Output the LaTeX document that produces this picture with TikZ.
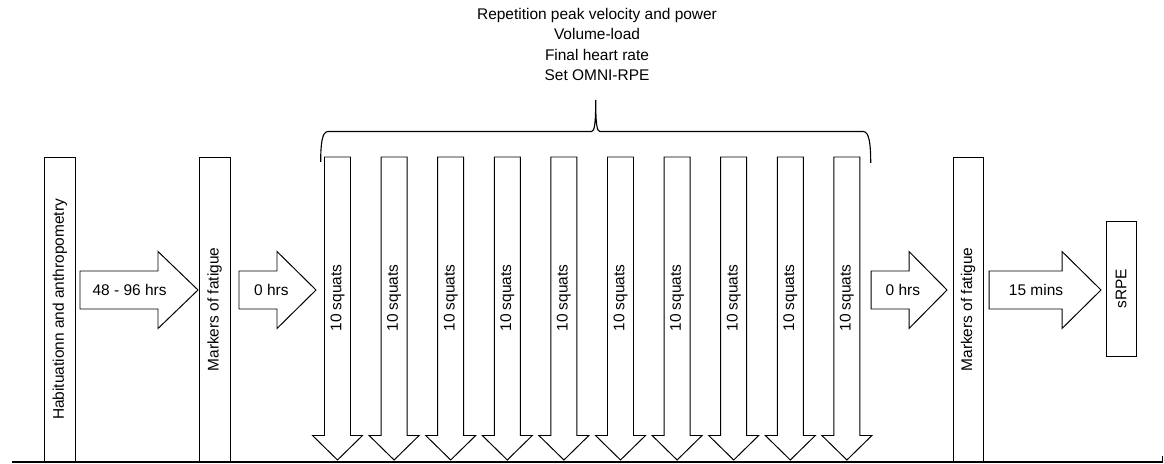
\documentclass[tikz,border=0pt]{standalone}
\usepackage{fontspec}
\setmainfont{Liberation Sans}
\usepackage{tikz}
\usetikzlibrary{positioning,calc}

\tikzset{
  blk/.style={draw, line width=0.7pt, fill=white},
  lbl/.style={font=\fontsize{11}{14.4}\selectfont, inner sep=0pt},
  vlbl/.style={lbl, rotate=90},
  stagebox/.style={blk, vlbl, rectangle},
}

% block arrow pointing right: name, start x, head x, tip x, label
\newcommand{\blockright}[5]{%
  \draw[blk] (#2,3.825) -- (#3,3.825) -- (#3,3.3375) -- (#4,4.3)
    -- (#3,5.2625) -- (#3,4.775) -- (#2,4.775) -- cycle;
  \node[lbl] (#1) at ($(#2,4.3)!0.42!(#4,4.3)$) {#5};
}

\begin{document}
\begin{tikzpicture}
    \useasboundingbox (0,-0.025) rectangle (29.1,11.55);

    % Stage boxes
    \node[stagebox, minimum width=7.625cm, minimum height=0.775cm] (habit) at (1.495,3.8125) {Habituationn and anthropometry};
    \node[stagebox, minimum width=7.625cm, minimum height=0.775cm] (fatigueA) at (5.3625,3.8125) {Markers of fatigue};
    \node[stagebox, minimum width=7.625cm, minimum height=0.75cm] (fatigueB) at (24.2,3.8125) {Markers of fatigue};
    \node[stagebox, minimum width=3.375cm, minimum height=0.75cm] (srpe) at (28.025,4.3375) {sRPE};

    % Time gaps
    \blockright{gapA}{2.0}{3.95}{4.95}{48 - 96 hrs}
    \blockright{gapB}{5.975}{6.925}{7.9}{0 hrs}
    \blockright{gapC}{21.775}{22.725}{23.675}{0 hrs}
    \blockright{gapD}{24.725}{26.55}{27.525}{15 mins}

    % Sets of squats
    \foreach \i in {0,...,9} {
      \pgfmathsetmacro{\cx}{8.4375+1.415*\i}
      \draw[blk] (\cx-0.325,7.625) -- (\cx+0.325,7.625) -- (\cx+0.325,0.6625)
        -- (\cx+0.625,0.6625) -- (\cx,0.05) -- (\cx-0.625,0.6625)
        -- (\cx-0.325,0.6625) -- cycle;
      \node[vlbl] (squat\i) at (\cx,4.1) {10 squats};
    }

    % Brace over the sets
    \coordinate (braceL) at (8.0175,7.5);
    \coordinate (braceTip) at (14.8925,9.05);
    \coordinate (braceR) at (21.7675,7.475);
    \draw[line width=0.8pt] (braceL) .. controls (8.0175,7.95) and (8.05,8.2625) .. (8.2,8.2625)
      -- (14.79,8.2625) .. controls (14.86,8.2625) and (14.8925,8.45) .. (braceTip)
      .. controls (14.8925,8.45) and (14.925,8.2625) .. (14.995,8.2625)
      -- (21.58,8.2625) .. controls (21.73,8.2625) and (21.7675,7.95) .. (braceR);

    % Measures taken during the sets
    \node[lbl, align=center] (measures) at (14.925,10.44)
      {Repetition peak velocity and power\\Volume-load\\Final heart rate\\Set OMNI-RPE};

    % Time line
    \coordinate (lineL) at (0.29,0);
    \coordinate (lineR) at (29.07,0);
    \draw[line width=1.3pt] (lineL) -- (lineR);
    \draw[line width=0.7pt] (lineR) -- ++(0,0.15);
\end{tikzpicture}
\end{document}
